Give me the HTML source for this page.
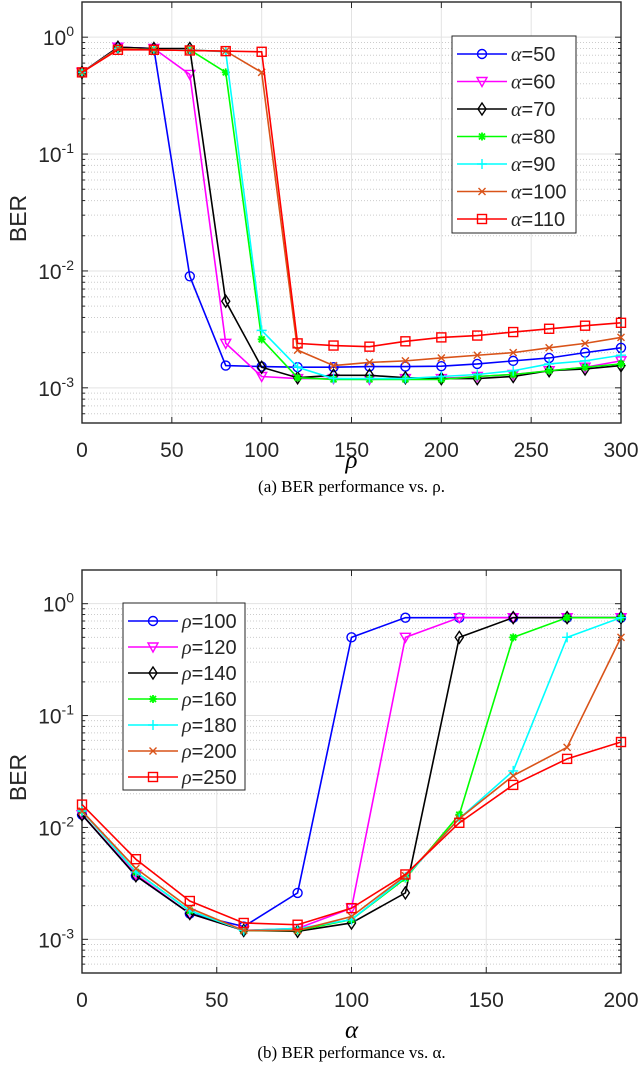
<!DOCTYPE html>
<html><head><meta charset="utf-8"><style>
body{margin:0;background:#fff;width:640px;height:1089px;overflow:hidden}
svg{display:block}
text{font-family:"Liberation Sans",sans-serif;fill:#262626}
.cap{font-family:"Liberation Serif",serif;fill:#000}
</style></head><body>
<svg id="s" width="640" height="1089"></svg>
<script>
const xA=[0,20,40,60,80,100,120,140,160,180,200,220,240,260,280,300];
const a50=[0.5,0.82,0.8,0.009,0.00155,0.00152,0.0015,0.0015,0.00152,0.00152,0.00153,0.0016,0.0017,0.0018,0.002,0.0022];
const a60=[0.5,0.82,0.8,0.48,0.0024,0.00125,0.0012,0.0012,0.00118,0.0012,0.0012,0.00125,0.0013,0.0014,0.0015,0.0017];
const a70=[0.5,0.82,0.8,0.8,0.0055,0.0015,0.00122,0.00128,0.00128,0.00122,0.0012,0.0012,0.00125,0.0014,0.00145,0.00155];
const a80=[0.5,0.8,0.78,0.78,0.5,0.0026,0.00122,0.00118,0.00118,0.00118,0.00118,0.00125,0.0013,0.0014,0.0015,0.0016];
const a90=[0.5,0.8,0.78,0.78,0.75,0.0031,0.0015,0.0012,0.0012,0.0012,0.00125,0.0013,0.0014,0.0016,0.0017,0.0019];
const a100=[0.5,0.8,0.78,0.77,0.76,0.5,0.0021,0.00155,0.00165,0.0017,0.0018,0.0019,0.002,0.0022,0.0024,0.0027];
const a110=[0.5,0.78,0.78,0.77,0.76,0.75,0.0024,0.0023,0.00225,0.0025,0.0027,0.0028,0.003,0.0032,0.0034,0.0036];
const labelsA=["α=50","α=60","α=70","α=80","α=90","α=100","α=110"];
const xB=[0,20,40,60,80,100,120,140,160,180,200];
const r100=[0.013,0.0037,0.0017,0.0013,0.0026,0.5,0.75,0.75,0.75,0.75,0.75];
const r120=[0.013,0.0038,0.0017,0.0012,0.00125,0.0019,0.5,0.75,0.75,0.75,0.75];
const r140=[0.013,0.0037,0.0017,0.0012,0.00118,0.0014,0.0026,0.5,0.75,0.75,0.75];
const r160=[0.014,0.004,0.0018,0.0012,0.0012,0.0015,0.0035,0.013,0.5,0.75,0.75];
const r180=[0.014,0.004,0.0018,0.0012,0.00125,0.0015,0.0036,0.012,0.032,0.5,0.75];
const r200=[0.014,0.0043,0.0019,0.0012,0.0012,0.0016,0.0037,0.012,0.029,0.052,0.5];
const r250=[0.016,0.0052,0.0022,0.0014,0.00135,0.0019,0.0038,0.011,0.024,0.041,0.058];
const labelsB=["ρ=100","ρ=120","ρ=140","ρ=160","ρ=180","ρ=200","ρ=250"];
const xTicksA=[0,50,100,150,200,250,300];
const xTicksB=[0,50,100,150,200];
const yExp=[0,-1,-2,-3];
const colors=["#0000ff","#ff00ff","#000000","#00ff00","#00ffff","#d95319","#ff0000"];
const markers=["o","v","d","*","+","x","s"];

const NS="http://www.w3.org/2000/svg";
const svg=document.getElementById('s');
function el(t,a,p){const e=document.createElementNS(NS,t);for(const k in a)e.setAttribute(k,a[k]);(p||svg).appendChild(e);return e;}

function marker(g,m,x,y,c){
  let e;
  if(m==="o")e=el('circle',{cx:x,cy:y,r:4.5,fill:'none',stroke:c,'stroke-width':1.4},g);
  else if(m==="v")e=el('path',{d:`M${x-5},${y-4}L${x+5},${y-4}L${x},${y+5}Z`,fill:'none',stroke:c,'stroke-width':1.4},g);
  else if(m==="d")e=el('path',{d:`M${x},${y-6}L${x+4},${y}L${x},${y+6}L${x-4},${y}Z`,fill:'none',stroke:c,'stroke-width':1.4},g);
  else if(m==="*")e=el('path',{d:`M${x-4},${y}L${x+4},${y}M${x},${y-4}L${x},${y+4}M${x-3},${y-3}L${x+3},${y+3}M${x-3},${y+3}L${x+3},${y-3}`,stroke:c,'stroke-width':1.8},g);
  else if(m==="+")e=el('path',{d:`M${x-5},${y}L${x+5},${y}M${x},${y-5}L${x},${y+5}`,stroke:c,'stroke-width':1.4},g);
  else if(m==="x")e=el('path',{d:`M${x-3.5},${y-3.5}L${x+3.5},${y+3.5}M${x-3.5},${y+3.5}L${x+3.5},${y-3.5}`,stroke:c,'stroke-width':1.4},g);
  else e=el('rect',{x:x-4.5,y:y-4.5,width:9,height:9,fill:'none',stroke:c,'stroke-width':1.4},g);
  
  
}

function chart(o){
  const g=el('g',{});
  
  
  const L=82,R=621,T=o.top,B=o.bot,ymin=Math.log10(5e-4),ymax=Math.log10(2);
  const X=v=>L+v/o.xmax*(R-L);
  const Y=v=>B-(Math.log10(v)-ymin)/(ymax-ymin)*(B-T);
  for(let d=-4;d<=0;d++)for(let k=2;k<=9;k++){const v=k*Math.pow(10,d);if(v<5e-4||v>2)continue;
    const gl=el('line',{x1:L,x2:R,y1:Y(v),y2:Y(v),stroke:'#cccccc','stroke-width':1,'stroke-dasharray':'1,2'},g);
    
    el('line',{x1:L,x2:L+3,y1:Y(v),y2:Y(v),stroke:'#262626'},g);el('line',{x1:R,x2:R-3,y1:Y(v),y2:Y(v),stroke:'#262626'},g);}
  for(const e of yExp){const y=Y(Math.pow(10,e));
    const gl=el('line',{x1:L,x2:R,y1:y,y2:y,stroke:'#e3e3e3','stroke-width':1},g);
    
    el('line',{x1:L,x2:L+6,y1:y,y2:y,stroke:'#262626'},g);el('line',{x1:R,x2:R-6,y1:y,y2:y,stroke:'#262626'},g);
    const t=el('text',{x:L-8,y:y+8,'text-anchor':'end','font-size':21},g);
    t.innerHTML=`10<tspan dy="-9" font-size="14">${e}</tspan>`;
    }
  for(const v of o.xt){const x=X(v);
    const gl=el('line',{x1:x,x2:x,y1:T,y2:B,stroke:'#e3e3e3'},g);
    
    el('line',{x1:x,x2:x,y1:B,y2:B-6,stroke:'#262626'},g);el('line',{x1:x,x2:x,y1:T,y2:T+6,stroke:'#262626'},g);
    const t=el('text',{x:x,y:B+34,'text-anchor':'middle','font-size':21},g);t.textContent=v;
    }
  const fr=el('rect',{x:L,y:T,width:R-L,height:B-T,fill:'none',stroke:'#262626','stroke-width':1.4},g);
  
  o.series.forEach((s,i)=>{
    const sg=el('g',{},g);
    
    
    const p=el('polyline',{points:s.map((v,j)=>X(o.x[j])+','+Y(v)).join(' '),fill:'none',stroke:colors[i],'stroke-width':1.6},sg);
    
    s.forEach((v,j)=>marker(sg,markers[i],X(o.x[j]),Y(v),colors[i]));
  });
  const yl=el('text',{x:0,y:0,'font-size':23,'text-anchor':'middle',transform:`translate(${o.ylx},${(T+B)/2+6}) rotate(-90)`},g);
  yl.textContent='BER';
  const xl=el('text',{x:(L+R)/2,y:o.xly,'font-size':25,'text-anchor':'middle','font-style':'italic',class:'cap'},g);
  xl.textContent=o.xlab;
  const cp=el('text',{x:(L+R)/2,y:o.capy,'font-size':17,'text-anchor':'middle',class:'cap'},g);
  cp.textContent=o.cap;
  const lg=el('g',{},g);
  const lr=el('rect',{x:o.lx,y:o.ly,width:o.lw,height:o.lh,fill:'#fff',stroke:'#262626','stroke-width':1},lg);
  
  o.labels.forEach((lab,i)=>{const y=o.ly+18+i*o.lsp;
    const eg=el('g',{},lg);
    el('line',{x1:o.lx+5,x2:o.lx+55,y1:y,y2:y,stroke:colors[i],'stroke-width':1.6},eg);
    marker(eg,markers[i],o.lx+30,y,colors[i]);
    const t=el('text',{x:o.lx+59,y:y+7,'font-size':20},eg);
    t.innerHTML=`<tspan font-family="Liberation Serif" font-style="italic">${lab[0]}</tspan>${lab.slice(1)}`;
  });
}
chart({name:'chart-ber-vs-rho',top:2,bot:423,x:xA,xmax:300,xt:xTicksA,series:[a50,a60,a70,a80,a90,a100,a110],labels:labelsA,ylx:26,xly:468,capy:492,xlab:'ρ',cap:'(a)  BER performance vs. ρ.',lx:452,ly:36,lw:124,lh:197,lsp:27.5});
chart({name:'chart-ber-vs-alpha',top:570,bot:973,x:xB,xmax:200,xt:xTicksB,series:[r100,r120,r140,r160,r180,r200,r250],labels:labelsB,ylx:26,xly:1038,capy:1058,xlab:'α',cap:'(b)  BER performance vs. α.',lx:123,ly:603,lw:122,lh:187,lsp:26});
</script>
</body></html>
